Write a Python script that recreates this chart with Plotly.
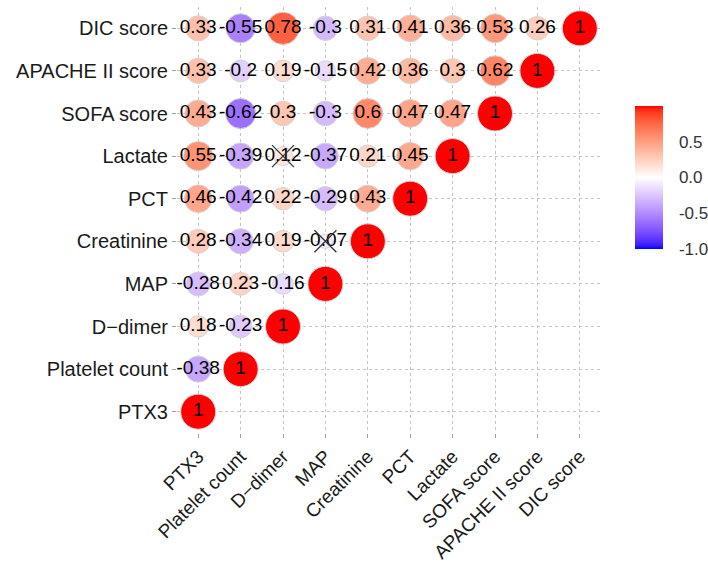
import numpy as np
import plotly.graph_objects as go

# Variables, bottom-to-top on y and left-to-right on x
variables = ["PTX3", "Platelet count", "D\u2212dimer", "MAP", "Creatinine",
             "PCT", "Lactate", "SOFA score", "APACHE II score", "DIC score"]

# Correlations of each row variable with the variables to its left (incl. itself)
corr_rows = {
    "PTX3":            [1],
    "Platelet count":  [-0.38, 1],
    "D\u2212dimer":    [0.18, -0.23, 1],
    "MAP":             [-0.28, 0.23, -0.16, 1],
    "Creatinine":      [0.28, -0.34, 0.19, -0.07, 1],
    "PCT":             [0.46, -0.42, 0.22, -0.29, 0.43, 1],
    "Lactate":         [0.55, -0.39, 0.12, -0.37, 0.21, 0.45, 1],
    "SOFA score":      [0.43, -0.62, 0.3, -0.3, 0.6, 0.47, 0.47, 1],
    "APACHE II score": [0.33, -0.2, 0.19, -0.15, 0.42, 0.36, 0.3, 0.62, 1],
    "DIC score":       [0.33, -0.55, 0.78, -0.3, 0.31, 0.41, 0.36, 0.53, 0.26, 1],
}

# Pairs that are not significant (row variable, column variable)
nonsignificant = [("Lactate", "D\u2212dimer"), ("Creatinine", "MAP")]

colorbar_ticks = [-1.0, -0.5, 0.0, 0.5]


# ---- blue-white-red gradient interpolated in CIELAB ----
def srgb_to_lab(rgb):
    c = np.array(rgb, dtype=float) / 255.0
    c = np.where(c <= 0.04045, c / 12.92, ((c + 0.055) / 1.055) ** 2.4)
    m = np.array([[0.4124564, 0.3575761, 0.1804375],
                  [0.2126729, 0.7151522, 0.0721750],
                  [0.0193339, 0.1191920, 0.9503041]])
    xyz = m @ c / np.array([0.95047, 1.0, 1.08883])
    f = np.where(xyz > 216 / 24389, np.cbrt(xyz), (24389 / 27 * xyz + 16) / 116)
    return np.array([116 * f[1] - 16, 500 * (f[0] - f[1]), 200 * (f[1] - f[2])])


def lab_to_srgb(lab):
    L, a, b = lab
    fy = (L + 16) / 116
    fx = fy + a / 500
    fz = fy - b / 200
    f = np.array([fx, fy, fz])
    xyz = np.where(f ** 3 > 216 / 24389, f ** 3, (116 * f - 16) / (24389 / 27))
    xyz = xyz * np.array([0.95047, 1.0, 1.08883])
    minv = np.array([[3.2404542, -1.5371385, -0.4985314],
                     [-0.9692660, 1.8760108, 0.0415560],
                     [0.0556434, -0.2040259, 1.0572252]])
    c = minv @ xyz
    c = np.clip(c, 0, 1)
    c = np.where(c <= 0.0031308, 12.92 * c, 1.055 * c ** (1 / 2.4) - 0.055)
    r, g, bb = (np.clip(c, 0, 1) * 255).round().astype(int)
    return f"rgb({r},{g},{bb})"


low, mid, high = srgb_to_lab((0, 0, 255)), srgb_to_lab((255, 255, 255)), srgb_to_lab((255, 0, 0))
colorscale = []
n_steps = 40
for i in range(n_steps + 1):
    t = i / n_steps
    if t <= 0.5:
        lab = low + (mid - low) * (t / 0.5)
    else:
        lab = mid + (high - mid) * ((t - 0.5) / 0.5)
    colorscale.append([t, lab_to_srgb(lab)])

# ---- long-form table of the triangle ----
xs, ys, vals = [], [], []
for yi, name in enumerate(variables, start=1):
    for xi, v in enumerate(corr_rows[name], start=1):
        xs.append(xi)
        ys.append(yi)
        vals.append(v)
vals = np.array(vals)
abs_vals = np.abs(vals)

# circle area scaled over the range of |r| (ggplot-style size range 2..5)
amin = abs_vals.min()
size_min, size_max, max_diam = 2.0, 5.0, 35.0
sizes = max_diam * (size_min + (size_max - size_min) *
                    np.sqrt((abs_vals - amin) / (1 - amin))) / size_max

labels = [f"{v:g}" for v in vals]

ns_x = [variables.index(c) + 1 for _, c in nonsignificant]
ns_y = [variables.index(r) + 1 for r, _ in nonsignificant]

font_family = "Liberation Sans, Arial, sans-serif"

fig = go.Figure()
fig.add_trace(go.Scatter(
    x=xs, y=ys, mode="markers",
    marker=dict(size=sizes, color=vals, colorscale=colorscale, cmin=-1, cmax=1,
                line=dict(color="#d4d4d4", width=1), opacity=1,
                showscale=True,
                colorbar=dict(
                    xref="container", yref="container",
                    x=635 / 708, xanchor="left",
                    y=1 - 234.5 / 563, yanchor="middle",
                    len=143, lenmode="pixels", thickness=28,
                    xpad=0, ypad=0, outlinewidth=0,
                    tickvals=colorbar_ticks,
                    ticktext=[f"{t:.1f}" for t in colorbar_ticks],
                    ticks="outside", ticklen=13, tickcolor="rgba(0,0,0,0)",
                    tickfont=dict(family=font_family, size=17, color="#333333"),
                )),
    hoverinfo="skip", showlegend=False,
))
fig.add_trace(go.Scatter(
    x=xs, y=ys, mode="text", text=labels,
    textfont=dict(family=font_family, size=19, color="#000000"),
    hoverinfo="skip", showlegend=False,
))
fig.add_trace(go.Scatter(
    x=ns_x, y=ns_y, mode="markers",
    marker=dict(symbol="x-thin-open", size=22, color="#333333",
                line=dict(color="#333333", width=1.3)),
    hoverinfo="skip", showlegend=False,
))

axis_common = dict(
    range=[0.5, 10.5], tickmode="array", tickvals=list(range(1, 11)),
    ticktext=variables, showgrid=True, gridcolor="#c4c4c4", gridwidth=1,
    griddash="3px,3px", zeroline=False, showline=False, automargin=False,
    ticks="outside", ticklen=4, tickcolor="#a0a0a0",
)

fig.update_layout(
    width=708, height=563,
    margin=dict(l=177, r=107, t=7, b=130),
    paper_bgcolor="white", plot_bgcolor="white",
    xaxis=dict(**axis_common, tickangle=-45,
               tickfont=dict(family=font_family, size=19, color="#1a1a1a")),
    yaxis=dict(**axis_common,
               tickfont=dict(family=font_family, size=20, color="#1a1a1a")),
)

fig.write_html("out.html")
